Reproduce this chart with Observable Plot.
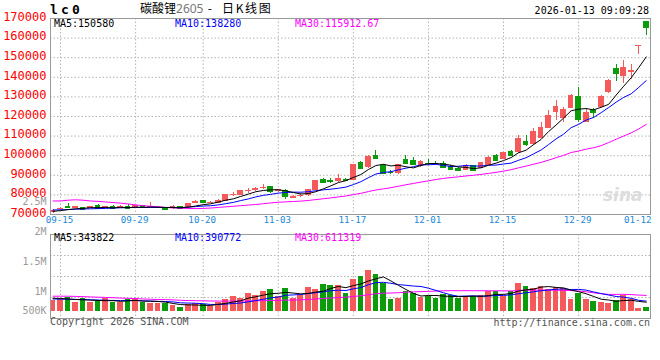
<!DOCTYPE html>
<html><head><meta charset="utf-8">
<script src="https://cdn.jsdelivr.net/npm/d3@7"></script>
<script src="https://cdn.jsdelivr.net/npm/@observablehq/plot@0.6"></script>
<style>
body{margin:0;background:#fff;}
#chart{position:relative;width:660px;height:360px;background:#fff;overflow:hidden;}
#chart svg{position:absolute;left:0;}
.t{position:absolute;white-space:pre;font-family:"DejaVu Sans Mono",monospace;font-size:10px;line-height:10px;}
</style></head>
<body><div id="chart"></div>
<script>
// ---------- data ----------
const dates = ["09-12","09-15","09-16","09-17","09-18","09-19","09-22","09-23","09-24","09-25","09-26","09-29","09-30","10-09","10-10","10-13","10-14","10-15","10-16","10-17","10-20","10-21","10-22","10-23","10-24","10-27","10-28","10-29","10-30","10-31","11-03","11-04","11-05","11-06","11-07","11-10","11-11","11-12","11-13","11-14","11-17","11-18","11-19","11-20","11-21","11-24","11-25","11-26","11-27","11-28","12-01","12-02","12-03","12-04","12-05","12-08","12-09","12-10","12-11","12-12","12-15","12-16","12-17","12-18","12-19","12-22","12-23","12-24","12-25","12-26","12-29","12-30","12-31","01-05","01-06","01-07","01-08","01-09","01-12","01-13"];
const open = [70800,72400,74300,73300,73600,73100,74700,73100,74200,73400,74200,73100,74500,73700,73050,73500,73700,73900,73600,75600,77000,75900,75800,76700,79900,79700,81800,82000,83300,84100,81500,82400,78400,79300,79600,82500,88000,87200,86600,87700,87500,96600,93800,100000,95000,91500,90900,98300,97500,94500,96200,96100,96000,94300,93700,92700,94800,93700,95200,100000,98200,101900,101400,107300,105600,109000,114100,121900,118800,124300,130200,117100,123100,124800,132100,144300,140500,142200,155800,168300];
const high = [72500,73500,75400,74300,73800,74200,75300,74300,74400,74700,75200,74600,74700,76100,73900,73700,74700,74100,75800,77200,77300,76700,77500,80400,81000,82300,83200,83600,85400,84300,82800,82900,79600,80700,82900,87400,88200,88300,90500,88300,95600,96900,100000,102500,95300,92600,95700,100000,99300,97300,98000,97100,96800,94800,94000,95300,95000,96500,99500,100500,101800,102700,110400,110400,114100,117100,123000,128200,124800,131200,134900,123900,124300,130700,138800,146300,148500,146300,156100,168300];
const low = [70500,72200,73000,73100,72000,72900,73100,73000,72500,73200,72400,73000,73200,73400,72900,72300,72500,72800,73300,75400,75800,75500,75600,76500,79200,79500,80700,81800,82600,80700,81200,77900,78100,78500,79400,82300,85900,85700,86300,86700,87300,93000,93600,98300,90300,90200,90600,95600,95300,94200,95000,95600,93400,92300,92000,92400,92400,93500,95000,97500,98000,99900,101200,104900,105400,108800,113800,118000,116800,124000,117100,116900,118800,124500,131500,138000,136600,138800,151500,161200];
const close = [72250,73300,73400,74150,72600,74000,73300,74050,72900,74200,73100,74400,73400,73900,73700,72600,73900,73050,75500,76600,76000,76200,77300,80300,80100,82200,82000,83400,83600,81600,82600,79000,79400,79800,82700,87200,86300,87000,88300,87500,95400,93700,99800,98500,90700,91200,95500,95900,95600,96900,95900,95900,94200,92800,92300,95000,92700,96300,99300,97800,101500,100200,108700,105800,112100,114600,120500,125300,123600,130700,118500,122200,121900,130200,138300,142100,144800,143400,156100,165500];
const ma5 = [71600,72000,72500,72900,73140,73490,73490,73620,73370,73690,73510,73730,73600,73800,73700,73600,73500,73430,73750,74330,75010,75470,76320,77280,77980,79220,80380,81600,82260,82560,82640,82040,81240,80480,80700,81620,83080,84600,86300,87260,88900,90380,92940,94980,95620,94780,95140,94360,93780,95020,95960,96040,95700,95140,94220,94040,93400,93820,95120,96220,97520,99020,101500,102800,105660,108280,112340,115660,119220,122940,123720,124060,123380,124700,126220,130940,135460,139760,144940,150380];
const ma10 = [72300,72400,72500,72700,72800,72900,73000,73100,73300,73415,73500,73610,73610,73585,73695,73555,73615,73515,73775,74015,74305,74485,74875,75515,76155,77115,77925,78960,79770,80270,80930,81210,81420,81370,81630,82130,82560,82920,83390,83980,85260,86730,88770,90640,91440,91840,92760,93650,94380,95320,95370,95590,95030,94460,94620,95000,94720,94760,95130,95220,95780,96210,97660,98960,100940,102900,105680,108580,111010,114300,116000,118200,119520,121960,124580,127330,129760,131570,134820,138300];
const ma30 = [76900,76900,77300,77500,77300,76900,76700,76400,76100,75800,75400,74900,74500,74200,73900,73600,73400,73200,73100,73000,73100,73300,73600,73900,74200,74500,74800,75100,75500,75900,76245,76435,76635,76823,77160,77600,78033,78465,78978,79422,80165,80808,81688,82508,83075,83695,84415,85177,85847,86523,87187,87843,88407,88823,89230,89657,90013,90443,90967,91507,92137,92843,93820,94687,95667,96580,97720,98997,100173,101613,102383,103333,104070,105127,106713,108410,110053,111637,113653,115940];
const volume = [410000,449000,513000,346000,475000,346000,385000,475000,346000,346000,436000,475000,346000,308000,308000,308000,218000,128000,257000,282000,257000,180000,346000,436000,565000,475000,693000,603000,757000,834000,565000,860000,475000,603000,924000,821000,1027000,1000000,988000,693000,1219000,1347000,1566000,1412000,1052000,449000,500000,770000,667000,539000,550000,500000,650000,615000,500000,565000,565000,615000,745000,745000,565000,745000,1080000,965000,885000,965000,850000,910000,875000,460000,667000,449000,385000,346000,308000,410000,603000,449000,115000,154000];
const vma5 = [500000,490000,470000,450000,438600,425800,413000,405400,405400,379600,397600,415600,389800,382200,374600,349000,297600,254000,243800,238600,228400,220800,264400,300200,356800,400400,503000,554400,618600,672400,690400,723800,698200,667400,685400,736600,770000,875000,952000,905800,985400,1049400,1162600,1247400,1319200,1165200,995800,836600,687600,585000,605200,605200,581200,570800,563000,566000,579000,572000,598000,647000,647000,683000,776000,820000,848000,928000,949000,915000,897000,812000,752400,672200,567200,461400,431000,379600,410400,423200,377000,346200];
const vma10 = [470000,465000,460000,455000,450000,440000,430000,420000,415000,409100,411700,414300,397600,393800,377100,373300,356600,321900,313000,306600,288700,259200,259200,272000,297700,314400,361900,409400,459400,514600,545400,613400,626300,643000,678900,713500,746900,786600,809700,795600,861000,909700,1018800,1099700,1112500,1075300,1022600,999600,967500,952100,885200,800500,708900,629200,574000,585600,592100,576600,584400,605000,606500,631000,674000,709000,747500,787500,816000,845500,858500,830000,840200,810600,741100,679200,621500,566000,541300,495200,419200,388600];
const vma30 = [577000,577000,577000,570000,560000,550000,539000,530000,520000,505000,495000,485000,470000,460000,450000,445000,435000,420000,410000,405000,400000,395000,390000,390000,390000,392000,395000,400000,405000,410100,415300,429000,427700,436300,451200,467100,488500,506000,527400,538900,565000,594100,634800,671600,696400,701100,710500,731900,745500,754100,763900,774500,784700,790600,788500,791500,787200,787600,787200,784200,784200,780400,800600,812600,811300,816100,810200,807200,803500,795700,777300,747400,708000,672500,647700,646400,649800,639100,620700,607900];
const dateLabels = ["09-15","09-29","10-20","11-03","11-17","12-01","12-15","12-29","01-12"];
const gridDates = ["09-15","09-29","10-20","11-03","11-17","12-01","12-15","12-29"];
const priceTicks = [70000,80000,90000,100000,110000,120000,130000,140000,150000,160000,170000];
const volTickValues = [1000000,1500000,2000000,2500000];
const volTickLabels = ["1M","1.5M","2M","2.5M"];
const volLowTick = [500000];
const volLowLabel = ["500K"];
const priceMALabels = ["MA5:150580","MA10:138280","MA30:115912.67"];
const volMALabels = ["MA5:343822","MA10:390772","MA30:611319"];
const title = "碳酸锂";
const titleCode = "2605";
const titleRest = " -  日K线图";
const symbol = "lc0";
const stamp = "2026-01-13 09:09:28";
const copyright = "Copyright 2026 SINA.COM";
const url = "http://finance.sina.com.cn";

// ---------- styling ----------
const RED = "#f55a5a", GREEN = "#0b9b0b";
const MA_COLORS = ["#000000", "#0000ff", "#ff00ff"];
const GRID = {stroke: "#b4b4b4", strokeDasharray: "1.5,2"};
const FONT = "DejaVu Sans Mono, monospace";
const xDomain = [-0.333, 79.57];
const half = 0.38;

const idx = d3.range(dates.length);
const candles = idx.map(i => ({i, o: open[i], h: high[i], l: low[i], c: close[i], v: volume[i],
  col: close[i] >= open[i] ? RED : GREEN}));
const gridIdx = gridDates.map(d => dates.indexOf(d));
const labelIdx = dateLabels.map(d => ({i: dates.indexOf(d), t: d}));

const chart = document.getElementById("chart");

// ---------- price panel ----------
const price = Plot.plot({
  width: 660, height: 232,
  marginLeft: 50, marginRight: 10, marginTop: 18, marginBottom: 18,
  x: {domain: xDomain, axis: null},
  y: {domain: [70000, 170000], axis: null},
  color: {type: "identity"},
  style: {background: "transparent", fontFamily: FONT, overflow: "visible"},
  marks: [
    Plot.ruleY(priceTicks.slice(1, -1), GRID),
    Plot.ruleX(gridIdx, GRID),
    Plot.text(["sina"], {frameAnchor: "bottom-right", dx: -8, dy: -14, fill: "#dcdcdc", fontSize: 17,
      fontStyle: "italic", fontWeight: "bold", fontFamily: "DejaVu Sans"}),
    Plot.ruleX(candles, {x: "i", y1: "l", y2: "h", stroke: "col", shapeRendering: "crispEdges"}),
    Plot.rect(candles, {x1: d => d.i - half, x2: d => d.i + half,
      y1: d => Math.min(d.o, d.c), y2: d => Math.max(d.o, d.c), fill: "col", shapeRendering: "crispEdges"}),
    Plot.ruleY(candles, {y: "c", x1: d => d.i - half, x2: d => d.i + half, stroke: "col", shapeRendering: "crispEdges"}),
    Plot.line(idx, {x: d => d, y: d => ma30[d], stroke: MA_COLORS[2], strokeWidth: 1}),
    Plot.line(idx, {x: d => d, y: d => ma10[d], stroke: MA_COLORS[1], strokeWidth: 1}),
    Plot.line(idx, {x: d => d, y: d => ma5[d], stroke: MA_COLORS[0], strokeWidth: 1}),
    Plot.frame({stroke: "#9a9a9a"}),
    Plot.text(priceTicks, {y: d => d, text: d => String(d), frameAnchor: "left", textAnchor: "end",
      dx: -4, dy: -1.5, fill: "#ff0000", fontSize: 12}),
    Plot.text(labelIdx, {x: "i", text: "t", frameAnchor: "bottom", dy: 8, dx: -1, fill: "#1a88d8", fontSize: 9.2})
  ]
});
price.style.top = "0px";
chart.appendChild(price);

// ---------- volume panel ----------
const volDomain = [-281050, 2952950];
const volGrid = [1, 2, 3].map(k => volDomain[0] + (volDomain[1] - volDomain[0]) * k / 4);
const vol = Plot.plot({
  width: 660, height: 128,
  marginLeft: 50, marginRight: 10, marginTop: 2, marginBottom: 42,
  x: {domain: xDomain, axis: null},
  y: {domain: volDomain, axis: null},
  color: {type: "identity"},
  style: {background: "transparent", fontFamily: FONT, overflow: "visible"},
  marks: [
    Plot.ruleY(volGrid, GRID),
    Plot.ruleX(gridIdx, GRID),
    Plot.rect(candles, {x1: d => d.i - half, x2: d => d.i + half, y1: 0, y2: "v", fill: "col", shapeRendering: "crispEdges"}),
    Plot.line(idx, {x: d => d, y: d => vma30[d], stroke: MA_COLORS[2], strokeWidth: 1}),
    Plot.line(idx, {x: d => d, y: d => vma10[d], stroke: MA_COLORS[1], strokeWidth: 1}),
    Plot.line(idx, {x: d => d, y: d => vma5[d], stroke: MA_COLORS[0], strokeWidth: 1}),
    Plot.frame({stroke: "#9a9a9a"})
  ]
});
vol.style.top = "232px";
chart.appendChild(vol);

// ---------- volume tick labels (Sina draws them on a separate label axis) ----------
const volAxis = Plot.plot({
  width: 50, height: 360, marginLeft: 0, marginRight: 0, marginTop: 0, marginBottom: 0,
  y: {domain: [1000000, 2500000], range: [291, 201.5], axis: null},
  style: {background: "transparent", fontFamily: FONT, overflow: "visible"},
  marks: [
    Plot.text(volTickValues, {y: d => d, text: (d, i) => volTickLabels[i], frameAnchor: "right",
      textAnchor: "end", dx: -4, fill: "#9a9a9a", fontSize: 10}),
    Plot.text(volLowTick, {y: d => d, text: (d, i) => volLowLabel[i], frameAnchor: "right",
      textAnchor: "end", dx: -4, dy: -11, fill: "#9a9a9a", fontSize: 10})
  ]
});
volAxis.style.top = "0px";
chart.appendChild(volAxis);

// ---------- texts ----------
function addText(txt, css) {
  const d = document.createElement("div");
  d.className = "t";
  d.textContent = txt;
  Object.assign(d.style, css);
  chart.appendChild(d);
  return d;
}
addText(symbol, {left: "50px", top: "3px", fontSize: "13px", lineHeight: "13px", fontWeight: "bold", letterSpacing: "3.2px"});
const tt = document.createElement("div");
tt.className = "t";
Object.assign(tt.style, {left: "140px", top: "2px", fontSize: "12px", lineHeight: "12px", fontFamily: "'Noto Sans CJK SC', sans-serif"});
tt.innerHTML = `<span>${title}</span><span style="color:#777;font-family:'Noto Sans',sans-serif">${titleCode}</span><span style="letter-spacing:1.6px">${titleRest}</span>`;
chart.appendChild(tt);
addText(stamp, {right: "11px", top: "6px", fontSize: "10px"});
const maX = [54, 175, 295];
priceMALabels.forEach((s, k) => addText(s, {left: maX[k] + "px", top: "18.5px", color: MA_COLORS[k]}));
volMALabels.forEach((s, k) => addText(s, {left: maX[k] + "px", top: "233px", color: MA_COLORS[k]}));
addText(copyright, {left: "50px", top: "317px", color: "#555"});
addText(url, {right: "10px", top: "318px", color: "#555"});
</script>
</body></html>
